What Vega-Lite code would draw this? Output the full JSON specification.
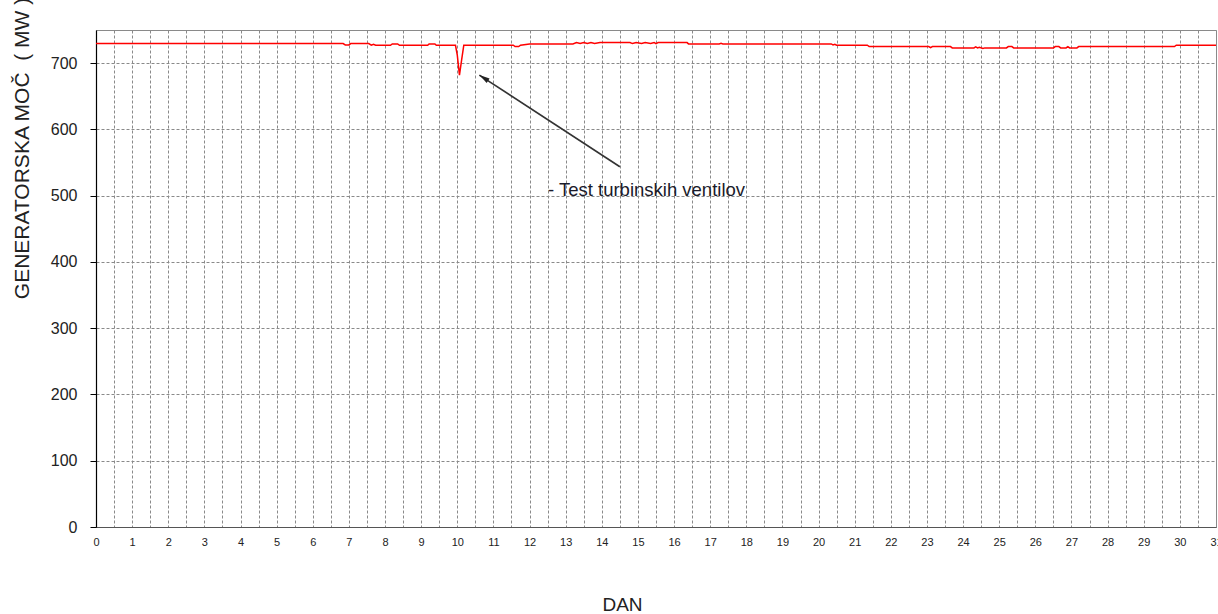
{
  "$schema": "https://vega.github.io/schema/vega-lite/v6.json",
  "width": 1120,
  "height": 497,
  "autosize": {"type": "none"},
  "padding": {"left": 96, "top": 30, "right": 2, "bottom": 87},
  "background": "white",
  "config": {
    "view": {"stroke": "#8a8a8a", "strokeWidth": 1},
    "font": "Liberation Sans"
  },
  "layer": [
    {
      "data": {"values": [
        {"dan": 0, "moc": 729.5}, {"dan": 6.84, "moc": 729.5}, {"dan": 6.9, "moc": 727.5}, {"dan": 7.0, "moc": 727.5}, {"dan": 7.05, "moc": 729.5},
        {"dan": 7.55, "moc": 729.5}, {"dan": 7.62, "moc": 727}, {"dan": 7.68, "moc": 728.5}, {"dan": 7.74, "moc": 727},
        {"dan": 8.15, "moc": 727}, {"dan": 8.2, "moc": 729}, {"dan": 8.35, "moc": 729}, {"dan": 8.4, "moc": 727},
        {"dan": 9.18, "moc": 727}, {"dan": 9.22, "moc": 729}, {"dan": 9.38, "moc": 729}, {"dan": 9.42, "moc": 727},
        {"dan": 9.95, "moc": 727}, {"dan": 10.0, "moc": 712}, {"dan": 10.06, "moc": 682}, {"dan": 10.12, "moc": 705}, {"dan": 10.18, "moc": 727},
        {"dan": 11.55, "moc": 727}, {"dan": 11.6, "moc": 725}, {"dan": 11.7, "moc": 725}, {"dan": 11.75, "moc": 727}, {"dan": 12.0, "moc": 729},
        {"dan": 13.2, "moc": 729}, {"dan": 13.3, "moc": 731}, {"dan": 13.4, "moc": 729.5}, {"dan": 13.5, "moc": 731}, {"dan": 13.6, "moc": 729.5},
        {"dan": 13.7, "moc": 731}, {"dan": 13.8, "moc": 729.5}, {"dan": 13.95, "moc": 731},
        {"dan": 14.78, "moc": 731}, {"dan": 14.85, "moc": 729.5}, {"dan": 14.95, "moc": 731}, {"dan": 15.1, "moc": 729.5}, {"dan": 15.2, "moc": 731},
        {"dan": 15.35, "moc": 729.5}, {"dan": 15.45, "moc": 731}, {"dan": 15.5, "moc": 729.5}, {"dan": 15.56, "moc": 731},
        {"dan": 16.36, "moc": 731}, {"dan": 16.4, "moc": 729}, {"dan": 17.25, "moc": 729}, {"dan": 17.3, "moc": 730}, {"dan": 17.35, "moc": 729},
        {"dan": 20.35, "moc": 729}, {"dan": 20.4, "moc": 727.5}, {"dan": 20.45, "moc": 728.5}, {"dan": 20.5, "moc": 727},
        {"dan": 21.35, "moc": 727}, {"dan": 21.4, "moc": 725}, {"dan": 23.05, "moc": 725}, {"dan": 23.1, "moc": 723.5}, {"dan": 23.15, "moc": 725},
        {"dan": 23.65, "moc": 725}, {"dan": 23.7, "moc": 723}, {"dan": 24.3, "moc": 723}, {"dan": 24.35, "moc": 724.5}, {"dan": 24.4, "moc": 723},
        {"dan": 24.45, "moc": 724}, {"dan": 24.55, "moc": 722}, {"dan": 24.6, "moc": 723},
        {"dan": 25.2, "moc": 723}, {"dan": 25.25, "moc": 725}, {"dan": 25.35, "moc": 725}, {"dan": 25.4, "moc": 723},
        {"dan": 26.5, "moc": 723}, {"dan": 26.55, "moc": 725}, {"dan": 26.65, "moc": 725}, {"dan": 26.7, "moc": 723},
        {"dan": 26.85, "moc": 723}, {"dan": 26.9, "moc": 725}, {"dan": 26.95, "moc": 723}, {"dan": 27.15, "moc": 723}, {"dan": 27.2, "moc": 725},
        {"dan": 29.85, "moc": 725}, {"dan": 29.9, "moc": 727}, {"dan": 31, "moc": 727}
      ]},
      "mark": {"type": "line", "color": "#ff0000", "strokeWidth": 1.5, "clip": true},
      "encoding": {
        "x": {
          "field": "dan", "type": "quantitative",
          "scale": {"domain": [0, 31], "nice": false, "zero": false},
          "axis": {
            "title": "DAN",
            "titleFontSize": 19, "titleFontWeight": "normal", "titleColor": "#222",
            "titleX": 526, "titleY": 77, "titleBaseline": "middle", "titleAnchor": "start", "titleAlign": "center",
            "values": [0,0.5,1,1.5,2,2.5,3,3.5,4,4.5,5,5.5,6,6.5,7,7.5,8,8.5,9,9.5,10,10.5,11,11.5,12,12.5,13,13.5,14,14.5,15,15.5,16,16.5,17,17.5,18,18.5,19,19.5,20,20.5,21,21.5,22,22.5,23,23.5,24,24.5,25,25.5,26,26.5,27,27.5,28,28.5,29,29.5,30,30.5,31],
            "tickCount": 200,
            "labelExpr": "datum.value % 1 === 0 ? format(datum.value, 'd') : ''",
            "labelFontSize": 11, "labelColor": "#222", "labelPadding": 9, "labelDx": -2,
            "labelOverlap": false, "labelFlush": false, "labelBound": false,
            "ticks": false,
            "domainColor": "#555", "domainWidth": 1,
            "grid": true, "gridColor": "#8a8a8a", "gridDash": [3, 2], "gridWidth": 1
          }
        },
        "y": {
          "field": "moc", "type": "quantitative",
          "scale": {"domain": [0, 750], "nice": false},
          "axis": {
            "title": "GENERATORSKA MOČ\u00a0\u00a0(\u00a0MW\u00a0)",
            "titleFontSize": 21, "titleFontWeight": "normal", "titleColor": "#222",
            "titleX": -74, "titleY": 118, "titleAngle": -90, "titleBaseline": "middle", "titleAnchor": "start", "titleAlign": "center",
            "values": [0, 100, 200, 300, 400, 500, 600, 700],
            "labelFontSize": 16, "labelColor": "#222", "labelPadding": 13,
            "tickSize": 6, "tickColor": "#000",
            "domainColor": "#000", "domainWidth": 1.2,
            "grid": true, "gridColor": "#8a8a8a", "gridDash": [3, 2], "gridWidth": 1
          }
        }
      }
    },
    {
      "data": {"values": [{"x1": 14.5, "y1": 543.7, "x2": 10.61, "y2": 682}]},
      "mark": {"type": "rule", "color": "#333", "strokeWidth": 1.6},
      "encoding": {
        "x": {"field": "x1", "type": "quantitative"},
        "y": {"field": "y1", "type": "quantitative"},
        "x2": {"field": "x2"},
        "y2": {"field": "y2"}
      }
    },
    {
      "data": {"values": [{"x": 10.61, "y": 682}]},
      "mark": {"type": "point", "shape": "M0,0 L0.5,2 L-0.5,2 Z", "filled": true, "color": "#222", "opacity": 1, "size": 110, "angle": 303},
      "encoding": {
        "x": {"field": "x", "type": "quantitative"},
        "y": {"field": "y", "type": "quantitative"}
      }
    },
    {
      "data": {"values": [{"x": 12.51, "y": 500, "label": "- Test turbinskih ventilov"}]},
      "mark": {"type": "text", "align": "left", "baseline": "alphabetic", "fontSize": 18.5, "color": "#1a1a2a", "font": "Liberation Sans"},
      "encoding": {
        "x": {"field": "x", "type": "quantitative"},
        "y": {"field": "y", "type": "quantitative"},
        "text": {"field": "label"}
      }
    }
  ]
}
